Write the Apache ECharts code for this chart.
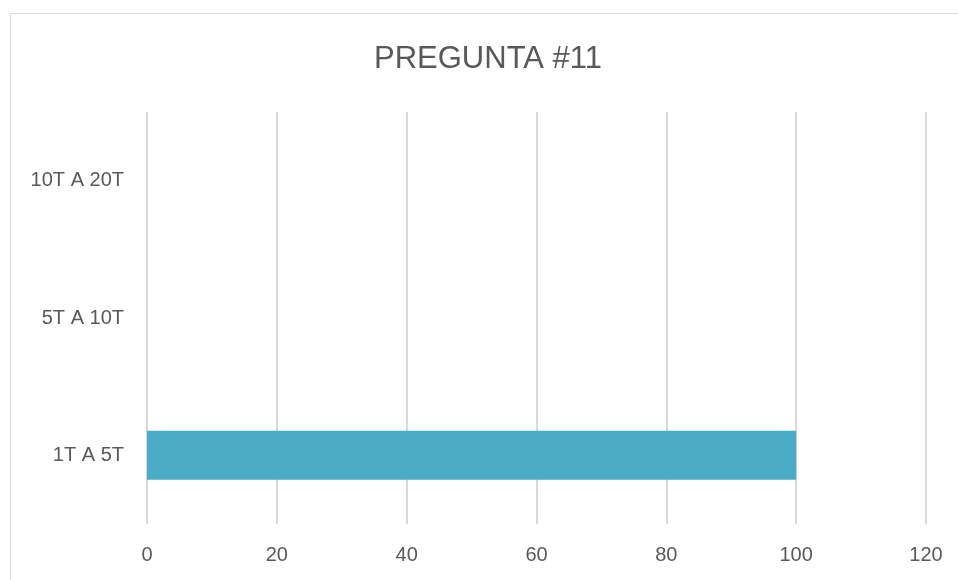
<!DOCTYPE html>
<html>
<head>
<meta charset="utf-8">
<title>PREGUNTA #11</title>
<script src="https://cdn.jsdelivr.net/npm/echarts@6/dist/echarts.min.js"></script>
<style>
	html, body { margin: 0; padding: 0; background: #fff; overflow: hidden; }
	#pregunta_chart { width: 958px; height: 580px; }
</style>
</head>
<body>
<div id="pregunta_chart"></div>
<script>
// datos de la pregunta
var categorias = ['1T A 5T', '5T A 10T', '10T A 20T'];
var valores = [100, 0, 0];
var ejeTicks = [0, 20, 40, 60, 80, 100, 120];

var myChart = echarts.init(document.getElementById('pregunta_chart'));

var option = {
	backgroundColor: '#fff',
	animation: false,
	title: {
		text: 'PREGUNTA #11',
		left: 369,
		top: 39,
		textStyle: {
			color: '#595959',
			fontFamily: '"Liberation Sans", sans-serif',
			fontSize: 31,
			fontWeight: 'normal'
		}
	},
	// borde del area del grafico
	graphic: [{
		type: 'rect',
		shape: { x: 10.5, y: 13.5, width: 1000, height: 1000 },
		style: { fill: 'none', stroke: '#d9d9d9', lineWidth: 1 },
		silent: true
	}],
	grid: {
		left: 147,
		right: 32,
		top: 112,
		bottom: 56,
		containLabel: false
	},
	xAxis: {
		type: 'value',
		min: ejeTicks[0],
		max: ejeTicks[ejeTicks.length - 1],
		interval: 20,
		axisLine: { show: false },
		axisTick: { show: false },
		axisLabel: {
			color: '#595959',
			fontFamily: '"Liberation Sans", sans-serif',
			fontSize: 20,
			margin: 21
		},
		splitLine: {
			show: true,
			showMinLine: true,
			showMaxLine: true,
			lineStyle: { color: '#d9d9d9', width: 2 }
		}
	},
	yAxis: {
		type: 'category',
		data: categorias,
		axisLine: { show: false },
		axisTick: { show: false },
		axisLabel: {
			color: '#595959',
			fontFamily: '"Liberation Sans", sans-serif',
			fontSize: 20,
			margin: 23
		},
		splitLine: { show: false }
	},
	series: [{
		name: 'PREGUNTA #11',
		type: 'bar',
		data: valores,
		barWidth: 49,
		itemStyle: { color: '#4bacc6' }
	}]
};

myChart.setOption(option);
</script>
</body>
</html>
